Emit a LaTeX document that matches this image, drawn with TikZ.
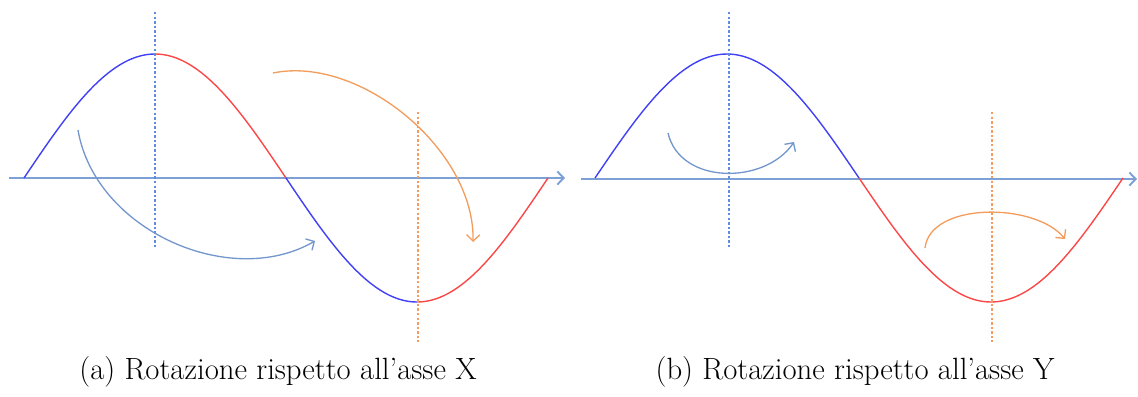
\documentclass[tikz,border=0pt]{standalone}
\usepackage{xcolor}
\usepackage{tikz}
\usetikzlibrary{arrows.meta, calc}
\definecolor{axisblue}{RGB}{125, 160, 215}
\definecolor{waveblue}{RGB}{64, 64, 245}
\definecolor{wavered}{RGB}{250, 72, 72}
\definecolor{rotblue}{RGB}{115, 150, 205}
\definecolor{rotorange}{RGB}{243, 156, 92}
\definecolor{dotblue}{RGB}{95, 140, 225}
\definecolor{dotorange}{RGB}{245, 155, 95}

\tikzset{
    tipopen/.style={-{Straight Barb[length=3.6pt, width=7.5pt]}},
    axisline/.style={draw=axisblue, line width=1.1pt, tipopen},
    bluewave/.style={draw=waveblue, line width=0.8pt},
    redwave/.style={draw=wavered, line width=0.8pt},
    blueaxis/.style={draw=dotblue, line width=0.75pt, dash pattern=on 1.4pt off 1.2pt},
    orangeaxis/.style={draw=dotorange, line width=0.75pt, dash pattern=on 1.4pt off 1.2pt},
    bluerot/.style={draw=rotblue, line width=0.75pt, tipopen},
    orangerot/.style={draw=rotorange, line width=0.75pt, tipopen},
    captiontext/.style={font=\fontsize{17.5}{20}\selectfont, inner sep=0pt}
}

% part of a sine wave: style, start x, span, from angle, to angle
\newcommand{\wavepart}[5]{
    \draw[#1] plot[domain=#4:#5, samples=40, smooth] ({#2+#3/360*\x},{178-124*sin(\x)});
}

\begin{document}
\begin{tikzpicture}[x=0.02cm, y=-0.02cm]
    \useasboundingbox (0,0) rectangle (1138,396);

    % (a) rotation about the X axis
    \draw[axisline] (9,178) -- (565,178);
    \wavepart{bluewave}{24}{524}{0}{90}
    \wavepart{redwave}{24}{524}{90}{180}
    \wavepart{bluewave}{24}{524}{180}{270}
    \wavepart{redwave}{24}{524}{270}{360}
    \draw[blueaxis] (155,12) -- (155,247);
    \draw[orangeaxis] (418,112) -- (418,342);
    \draw[bluerot] (78,130) .. controls (95,230) and (230,290) .. (315,241);
    \draw[orangerot] (273,73) .. controls (360,55) and (475,150) .. (473,242);
    \node[captiontext] (capa) at (278,372) {(a) Rotazione rispetto all'asse X};

    % (b) rotation about the Y axis
    \draw[axisline] (581,179) -- (1137,179);
    \wavepart{bluewave}{595}{528}{0}{180}
    \wavepart{redwave}{595}{528}{180}{360}
    \draw[blueaxis] (729,12) -- (729,247);
    \draw[orangeaxis] (992,112) -- (992,342);
    \draw[bluerot] (668,133) .. controls (680,185) and (765,185) .. (794,142);
    \draw[orangerot] (925,248) .. controls (930,202) and (1035,202) .. (1065,239);
    \node[captiontext] (capb) at (855,372) {(b) Rotazione rispetto all'asse Y};
\end{tikzpicture}
\end{document}
